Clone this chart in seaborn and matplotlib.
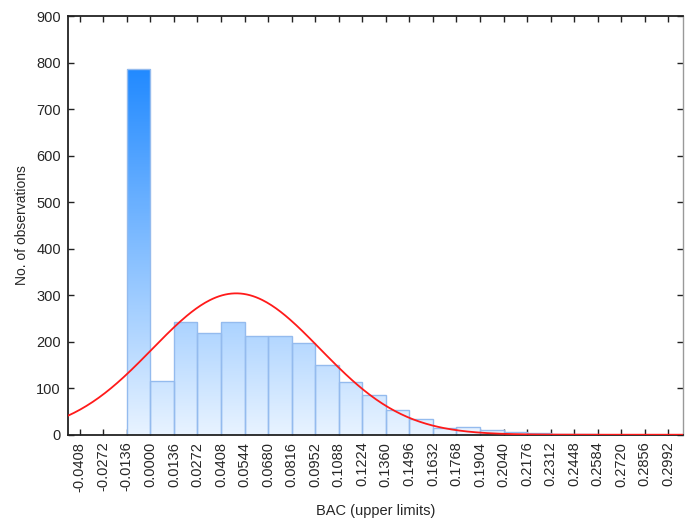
import matplotlib
matplotlib.use("Agg")
import matplotlib.pyplot as plt
import numpy as np
import seaborn as sns
from matplotlib.colors import LinearSegmentedColormap

# histogram data
bin_width = 0.0136
bin_left = [-0.0136, 0.0000, 0.0136, 0.0272, 0.0408, 0.0544, 0.0680, 0.0816, 0.0952, 0.1088,
            0.1224, 0.1360, 0.1496, 0.1632, 0.1768, 0.1904, 0.2040, 0.2176, 0.2312, 0.2448]
counts = [787, 115, 243, 218, 243, 212, 213, 197, 149, 114,
          86, 54, 34, 14, 16, 11, 5, 3, 2, 1]
tick_labels = ["-0.0408", "-0.0272", "-0.0136", "0.0000", "0.0136", "0.0272", "0.0408",
               "0.0544", "0.0680", "0.0816", "0.0952", "0.1088", "0.1224", "0.1360",
               "0.1496", "0.1632", "0.1768", "0.1904", "0.2040", "0.2176", "0.2312",
               "0.2448", "0.2584", "0.2720", "0.2856", "0.2992"]
# fitted normal curve parameters (estimated)
fit_mean = 0.0496
fit_std = 0.0485

sns.set_style("white")
plt.rcParams["font.family"] = ["Liberation Sans", "DejaVu Sans"]

fig = plt.figure(figsize=(6.93, 5.2), dpi=100)
ax = fig.add_axes([0.098, 0.164, 0.888, 0.805])

edges = [b for b in bin_left] + [bin_left[-1] + bin_width]
centers = [b + bin_width / 2 for b in bin_left]
sns.histplot(x=centers, weights=counts, bins=edges, ax=ax, stat="count",
             fill=True, facecolor="none", edgecolor="#94bbee", linewidth=1.0, alpha=1)

# vertical blue gradient inside each bar
cmap = LinearSegmentedColormap.from_list("bac", ["#e8f3ff", "#1e88ff"])
grad = np.linspace(0, 1, 256).reshape(-1, 1)
for patch in ax.patches:
    x0 = patch.get_x()
    w, h = patch.get_width(), patch.get_height()
    if h <= 0:
        continue
    frac = h / 800.0
    img = ax.imshow(grad * frac, cmap=cmap, vmin=0, vmax=1, origin="lower",
                    extent=(x0, x0 + w, 0, h), aspect="auto", zorder=1.5)
    img.set_clip_path(patch)
    patch.set_zorder(2)

xmin, xmax = -0.0476, 0.3078
xs = np.linspace(xmin, xmax, 400)
ys = sum(counts) * bin_width / (fit_std * np.sqrt(2 * np.pi)) * np.exp(-0.5 * ((xs - fit_mean) / fit_std) ** 2)
sns.lineplot(x=xs, y=ys, ax=ax, color="#ff1a1a", linewidth=1.3, zorder=3)

ticks = [float(t) for t in tick_labels]
ax.set_xticks(ticks)
ax.set_xticklabels(tick_labels, rotation=90, fontsize=10.5)
ax.set_xlim(xmin, xmax)
ax.set_ylim(0, 900)
ax.set_yticks(range(0, 901, 100))
ax.tick_params(axis="y", labelsize=10.5)
ax.tick_params(direction="in", length=4, width=1, color="#222222",
               top=True, right=True, bottom=True, left=True, pad=5)
ax.set_xlabel("BAC (upper limits)", fontsize=10.5, labelpad=9)
ax.set_ylabel("No. of observations", fontsize=10, labelpad=5)

for side in ["left", "bottom", "top"]:
    ax.spines[side].set_color("#222222")
    ax.spines[side].set_linewidth(1.3)
ax.spines["right"].set_color("#999999")
ax.spines["right"].set_linewidth(1.0)

fig.savefig("out.png", dpi=100)
